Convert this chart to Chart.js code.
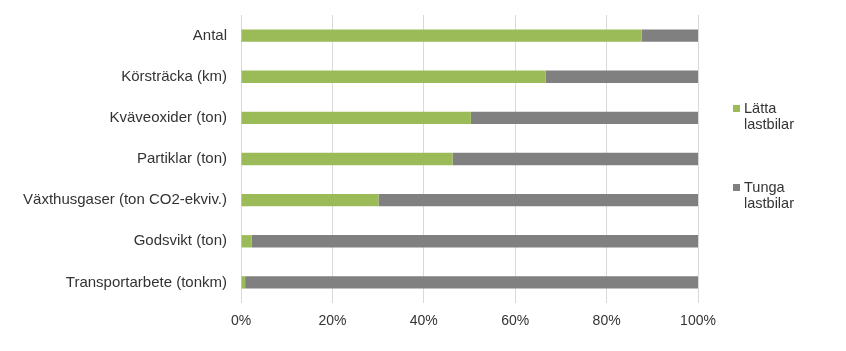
<!DOCTYPE html>
<html>
<head>
<meta charset="utf-8">
<script src="https://cdn.jsdelivr.net/npm/chart.js@4"></script>
<style>
  body { margin: 0; background: #fff; font-family: "Liberation Sans", Arial, sans-serif; }
  #wrap { position: relative; width: 846px; height: 351px; }
  .leg { position: absolute; left: 744px; font-size: 14.5px; line-height: 16px; color: #333; }
  .leg .sw { position: absolute; left: -11px; top: 5px; width: 7px; height: 7px; }
</style>
</head>
<body>
<div id="wrap">
  <canvas id="chart" width="846" height="351"></canvas>
  <div class="leg" style="top:100px"><span class="sw" style="background:#9BBB59"></span>Lätta<br>lastbilar</div>
  <div class="leg" style="top:179px"><span class="sw" style="background:#808080"></span>Tunga<br>lastbilar</div>
</div>
<script>
// categories and shares (percent)
const categories = ['Antal', 'Körsträcka (km)', 'Kväveoxider (ton)', 'Partiklar (ton)',
    'Växthusgaser (ton CO2-ekviv.)', 'Godsvikt (ton)', 'Transportarbete (tonkm)'];
const lattaLastbilar = [87.7, 66.7, 50.3, 46.3, 30.1, 2.3, 0.9];
const tungaLastbilar = [12.3, 33.3, 49.7, 53.7, 69.9, 97.7, 99.1];
const xTicks = [0, 20, 40, 60, 80, 100];

const ctx = document.getElementById('chart').getContext('2d');
new Chart(ctx, {
    type: 'bar',
    data: {
        labels: categories,
        datasets: [
            { label: 'Lätta lastbilar', data: lattaLastbilar, backgroundColor: '#9BBB59',
              barPercentage: 0.3, categoryPercentage: 1 },
            { label: 'Tunga lastbilar', data: tungaLastbilar, backgroundColor: '#808080',
              barPercentage: 0.3, categoryPercentage: 1 }
        ]
    },
    options: {
        indexAxis: 'y',
        responsive: false,
        animation: false,
        layout: { padding: { top: 5, right: 148, left: 0, bottom: 0 } },
        plugins: { legend: { display: false }, tooltip: { enabled: false } },
        scales: {
            x: {
                stacked: true,
                min: 0, max: 100,
                afterBuildTicks: (scale) => { scale.ticks = xTicks.map(v => ({ value: v })); },
                afterFit: (scale) => { scale.height = 48; },
                grid: { color: '#d9d9d9', drawTicks: false },
                border: { display: false },
                ticks: { padding: 10, color: '#333', font: { family: 'Liberation Sans', size: 14 },
                         callback: (v) => v + '%' }
            },
            y: {
                stacked: true,
                afterFit: (scale) => { scale.width = 241; },
                grid: { display: false },
                border: { display: false },
                ticks: { padding: 6, color: '#333', font: { family: 'Liberation Sans', size: 15 } }
            }
        }
    }
});
</script>
</body>
</html>
